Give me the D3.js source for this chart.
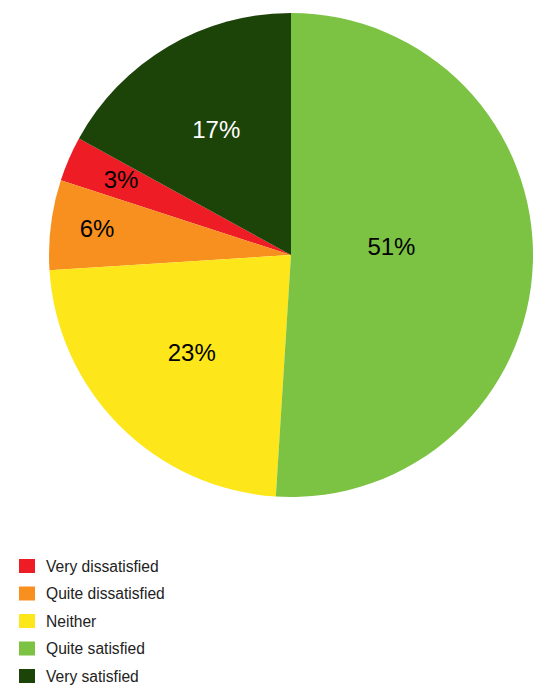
<!DOCTYPE html>
<html>
<head>
<meta charset="utf-8">
<script src="https://cdn.jsdelivr.net/npm/d3@7"></script>
<style>
  html, body { margin: 0; padding: 0; background: #fff; }
  svg { display: block; }
  text { font-family: "Liberation Sans", Arial, Helvetica, sans-serif; }
</style>
</head>
<body>
<svg id="chart" width="535" height="686"></svg>
<script>
// Satisfaction survey responses (percent)
const categories = ["Very dissatisfied", "Quite dissatisfied", "Neither", "Quite satisfied", "Very satisfied"];
const values = [3, 6, 23, 51, 17];
const colors = ["#ee1c25", "#f7901e", "#fde619", "#7cc243", "#1c4308"];
const labelColors = ["#000", "#000", "#000", "#000", "#fff"];

// Order in which slices are laid clockwise from 12 o'clock
const sliceOrder = ["Quite satisfied", "Neither", "Quite dissatisfied", "Very dissatisfied", "Very satisfied"];
// Radial position of each percentage label, as a share of the pie radius
const labelRadius = { "Quite satisfied": 0.415, "Neither": 0.6, "Quite dissatisfied": 0.805, "Very dissatisfied": 0.755, "Very satisfied": 0.575 };
const labelTurn = -0.033; // labels sit slightly counter-clockwise of each slice's middle

const svg = d3.select("#chart");
const cx = 291, cy = 255, R = 242;

const data = categories.map((c, i) => ({ name: c, value: values[i], color: colors[i], labelColor: labelColors[i] }));

const pie = d3.pie()
  .value(d => d.value)
  .sort((a, b) => sliceOrder.indexOf(a.name) - sliceOrder.indexOf(b.name));

const arcs = pie(data);
const arc = d3.arc().innerRadius(0).outerRadius(R);

const g = svg.append("g").attr("transform", `translate(${cx},${cy})`);

g.selectAll("path.slice")
  .data(arcs)
  .join("path")
  .attr("class", "slice")
  .attr("d", arc)
  .attr("fill", d => d.data.color);

g.selectAll("text.pct")
  .data(arcs)
  .join("text")
  .attr("class", "pct")
  .attr("transform", d => {
    const r = R * labelRadius[d.data.name];
    const a = (d.startAngle + d.endAngle) / 2 + labelTurn;
    return `translate(${r * Math.sin(a)},${-r * Math.cos(a)})`;
  })
  .attr("text-anchor", "middle")
  .attr("font-size", 24)
  .attr("fill", d => d.data.labelColor)
  .text(d => d.data.value + "%");

// Legend
const legend = svg.append("g").attr("transform", "translate(19,559)");
const rowH = 27.5;
const rows = legend.selectAll("g.row")
  .data(data)
  .join("g")
  .attr("class", "row")
  .attr("transform", (d, i) => `translate(0,${i * rowH})`);

rows.append("rect")
  .attr("width", 16)
  .attr("height", 14)
  .attr("fill", d => d.color);

rows.append("text")
  .attr("x", 27)
  .attr("y", 12.5)
  .attr("font-size", 15.6)
  .attr("fill", "#222")
  .text(d => d.name);
</script>
</body>
</html>
